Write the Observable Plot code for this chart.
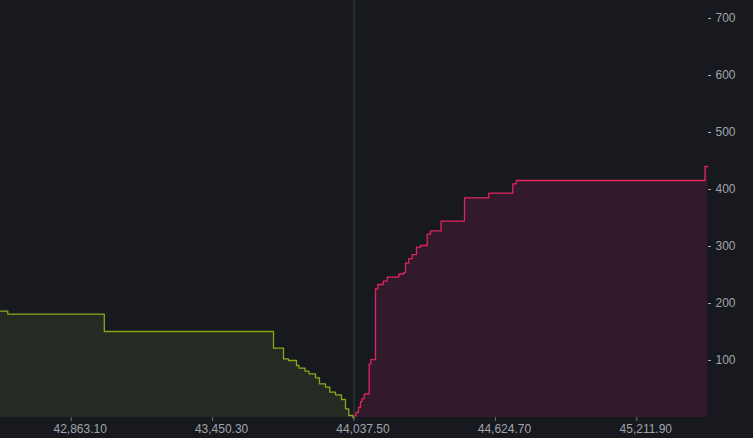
<!DOCTYPE html>
<html>
<head>
<meta charset="utf-8">
<script src="https://cdn.jsdelivr.net/npm/d3@7"></script>
<script src="https://cdn.jsdelivr.net/npm/@observablehq/plot@0.6"></script>
<style>
  html, body { margin: 0; padding: 0; background: #17191e; }
  #chart { width: 753px; height: 438px; }
</style>
</head>
<body>
<div id="chart"></div>
<script>
const midPrice = 44037.5;
const xDomain = [42569.5, 45505.5];
const yDomain = [0, 731.6];
const xTicks = [42863.1, 43450.3, 44037.5, 44624.7, 45211.9];
const yTicks = [100, 200, 300, 400, 500, 600, 700];

// Bids (ascending price); depth applies to the segment left of each price
const bidPrices = [42569.5, 42599.8, 43000.5, 43703.2, 43744.7, 43765.5, 43798.7, 43809.1, 43834.0, 43850.6, 43877.6, 43894.1, 43919.1, 43936.9, 43960.7, 43985.6, 44002.2, 44015.9, 44032.5, 44037.5];
const bidDepths = [186.5, 186.5, 181.2, 150.9, 121.6, 103.0, 100.0, 91.2, 86.5, 81.3, 76.7, 69.6, 59.1, 53.2, 44.4, 39.8, 31.6, 15.3, 3.5, 0];

// Asks (ascending price); depth applies to the segment right of each price
const askPrices = [44037.5, 44045.8, 44056.2, 44064.5, 44070.7, 44079.9, 44100.6, 44107.3, 44126.8, 44136.3, 44158.8, 44175.4, 44223.6, 44244.3, 44251.4, 44265.1, 44279.2, 44297.1, 44313.7, 44341.5, 44355.2, 44398.8, 44496.4, 44597.3, 44697.0, 44711.1, 45495.2, 45505.5];
const askDepths = [3, 9, 18, 28, 33, 41.2, 94.2, 101.5, 225.8, 233.3, 239.1, 246.3, 251.8, 254.7, 270.7, 278.6, 285.6, 298.8, 301.8, 321.6, 327.4, 344.4, 385.4, 393.5, 410, 415.8, 440.4, 440.4];

const bids = bidPrices.map((p, i) => ({price: p, depth: bidDepths[i]}));
const asks = askPrices.map((p, i) => ({price: p, depth: askDepths[i]}));

const textColor = "#a0a5ac";
const fmt = d3.format(",.2f");

const chart = Plot.plot({
  width: 753,
  height: 438,
  marginTop: 0,
  marginLeft: 0,
  marginRight: 46,
  marginBottom: 21,
  style: {background: "#17191e", color: textColor, fontFamily: "'Liberation Sans', Arial, sans-serif", fontSize: "12px"},
  x: {domain: xDomain, label: null},
  y: {domain: yDomain, label: null},
  marks: [
    Plot.ruleX([midPrice], {stroke: "#3a3e44", strokeWidth: 1}),
    Plot.areaY(bids, {x: "price", y: "depth", curve: "step-before", fill: "#252b22"}),
    Plot.areaY(asks, {x: "price", y: "depth", curve: "step-after", fill: "#32192b"}),
    Plot.lineY(bids, {x: "price", y: "depth", curve: "step-before", stroke: "#86a91b", strokeWidth: 1.3}),
    Plot.lineY(asks, {x: "price", y: "depth", curve: "step-after", stroke: "#e0245e", strokeWidth: 1.3}),
    Plot.axisX({ticks: xTicks, tickFormat: () => "", tickSize: 4, stroke: "#6b7078", label: null}),
    Plot.axisX({ticks: xTicks, tickFormat: fmt, tickSize: 0, tickPadding: 7, dx: 9, fill: textColor, label: null}),
    Plot.axisY({anchor: "right", ticks: yTicks, tickSize: 3, tickPadding: 5, stroke: textColor, fill: textColor, label: null})
  ]
});
document.getElementById("chart").appendChild(chart);
</script>
</body>
</html>
